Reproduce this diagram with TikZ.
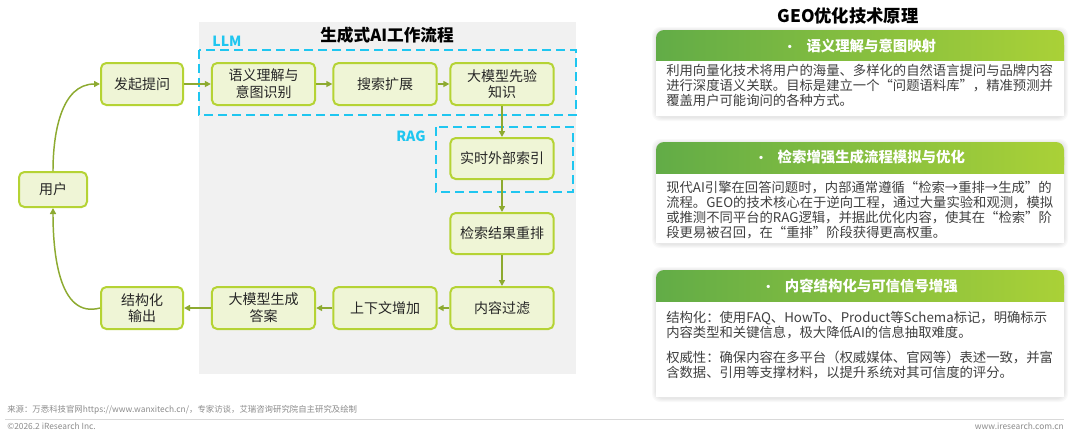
\documentclass[tikz,border=0pt]{standalone}
\usepackage{fontspec}
\setmainfont{Noto Sans CJK SC}
\usetikzlibrary{arrows.meta}
\definecolor{nodefill}{HTML}{EFF5D6}
\definecolor{nodeedge}{HTML}{B5D334}
\definecolor{arr}{HTML}{8DAA30}
\definecolor{cyanline}{HTML}{1FC6F0}
\definecolor{gl}{HTML}{62AC47}
\definecolor{gr}{HTML}{AAD137}
\definecolor{bodytext}{HTML}{404040}
\definecolor{nodetext}{HTML}{262626}
\definecolor{bg}{HTML}{F1F1F1}
\definecolor{foot}{HTML}{8C8C8C}
\begin{document}
\begin{tikzpicture}[x=0.75pt,y=-0.75pt,
  flow/.style={draw=nodeedge, line width=1.5pt, fill=nodefill, rounded corners=4pt,
    text=nodetext, align=center, inner sep=0pt, minimum height=31.5pt,
    font=\fontsize{10.5}{12.5}\selectfont},
  wide/.style={flow, minimum width=77.5pt},
  conn/.style={draw=arr, line width=1.1pt, -{Triangle[length=4.5pt,width=4.5pt]}},
  dashbox/.style={draw=cyanline, line width=1.5pt, dash pattern=on 6.75pt off 3.75pt},
  boxlabel/.style={text=cyanline, font=\bfseries\fontsize{10.5}{12}\selectfont, inner sep=0pt},
  cardhead/.style={text=white, font=\bfseries\fontsize{10.8}{13}\selectfont, inner sep=0pt},
  cardbody/.style={text=bodytext, font=\fontsize{10}{11.25}\selectfont, align=left, inner sep=0pt, anchor=north west},
  foottext/.style={text=foot, font=\fontsize{6.3}{7}\selectfont, inner sep=0pt}
]
\useasboundingbox[fill=white] (0,0) rectangle (1080,437);

% left panel background
\fill[bg] (199,22) rectangle (576,374);
\node[font=\bfseries\fontsize{12.5}{14}\selectfont, text=black, inner sep=0pt] (ltitle) at (387,35) {生成式AI工作流程};

% dashed boxes
\draw[dashbox] (199,50) rectangle (576,115);
\node[boxlabel] (llm) at (227,41) {LLM};
\draw[dashbox] (436,127) rectangle (573,192);
\node[boxlabel] (rag) at (411,136) {RAG};

% nodes
\node[flow, minimum width=51pt, minimum height=26.25pt] (user) at (53,189.5) {用户};
\node[flow, minimum width=61.5pt] (ask) at (142,84) {发起提问};
\node[wide] (sem) at (263.5,84) {语义理解与\\意图识别};
\node[wide] (exp) at (385,84) {搜索扩展};
\node[wide] (prior) at (502,84) {大模型先验\\知识};
\node[wide, minimum height=30.75pt] (rt) at (502,158.5) {实时外部索引};
\node[wide, minimum height=30.75pt] (rerank) at (502,233.5) {检索结果重排};
\node[wide] (filt) at (502,308) {内容过滤};
\node[wide] (ctx) at (385,308) {上下文增加};
\node[wide] (gen) at (263.5,308) {大模型生成\\答案};
\node[flow, minimum width=61.5pt] (out) at (142,308) {结构化\\输出};

% connectors
\draw[conn] (user.north) to[out=90,in=180] (ask.west);
\draw[conn] (ask) -- (sem);
\draw[conn] (sem) -- (exp);
\draw[conn] (exp) -- (prior);
\draw[conn] (prior) -- (rt);
\draw[conn] (rt) -- (rerank);
\draw[conn] (rerank) -- (filt);
\draw[conn] (filt) -- (ctx);
\draw[conn] (ctx) -- (gen);
\draw[conn] (gen) -- (out);
\draw[conn] (out.west) to[out=195,in=270] (user.south);

% right panel
\node[font=\bfseries\fontsize{13}{15}\selectfont, text=black, inner sep=0pt] (rtitle) at (848,16) {GEO优化技术原理};

\foreach \ya/\yb in {30/116, 142/243, 270/397}{
  \foreach \d in {1,2,3,4}{
    \fill[black, opacity=0.022, rounded corners=6pt] (656-\d,\ya-\d+1) rectangle (1064+\d,\yb+\d+1);
  }
  \fill[white] (656,\ya+10) rectangle (1064,\yb);
}
% headers
\shade[left color=gl, right color=gr, rounded corners=6pt] (656,30) rectangle (1064,60);
\shade[left color=gl, right color=gr] (656,45) rectangle (1064,60);
\shade[left color=gl, right color=gr, rounded corners=6pt] (656,142) rectangle (1064,173);
\shade[left color=gl, right color=gr] (656,157) rectangle (1064,173);
\shade[left color=gl, right color=gr, rounded corners=6pt] (656,270) rectangle (1064,301);
\shade[left color=gl, right color=gr] (656,285) rectangle (1064,301);

\node[cardhead] (h1) at (860,45.5) {{\small •}\hspace{8pt}语义理解与意图映射};
\node[cardhead] (h2) at (860,157.5) {{\small •}\hspace{8pt}检索增强生成流程模拟与优化};
\node[cardhead] (h3) at (860,285.5) {{\small •}\hspace{8pt}内容结构化与可信信号增强};

\node[cardbody] (b1) at (666,64) {利用向量化技术将用户的海量、多样化的自然语言提问与品牌内容\\进行深度语义关联。目标是建立一个“问题语料库”，精准预测并\\覆盖用户可能询问的各种方式。};
\node[cardbody] (b2) at (666,181) {现代AI引擎在回答问题时，内部通常遵循“检索→重排→生成”的\\流程。GEO的技术核心在于逆向工程，通过大量实验和观测，模拟\\或推测不同平台的RAG逻辑，并据此优化内容，使其在“检索”阶\\段更易被召回，在“重排”阶段获得更高权重。};
\node[cardbody] (b3) at (666,311) {结构化：使用FAQ、HowTo、Product等Schema标记，明确标示\\内容类型和关键信息，极大降低AI的信息抽取难度。\\[7.5pt]权威性：确保内容在多平台（权威媒体、官网等）表述一致，并富\\含数据、引用等支撑材料，以提升系统对其可信度的评分。};

% footer
\node[foottext, anchor=west] (src) at (7,409.5) {来源：万悉科技官网https://www.wanxitech.cn/，专家访谈，艾瑞咨询研究院自主研究及绘制};
\draw[draw=black!15, line width=0.6pt] (5,419) -- (1064,419);
\node[foottext, anchor=west] (copy) at (7,426.5) {©2026.2 iResearch Inc.};
\node[foottext, anchor=east] (web) at (1064,426.5) {www.iresearch.com.cn};
\end{tikzpicture}
\end{document}
